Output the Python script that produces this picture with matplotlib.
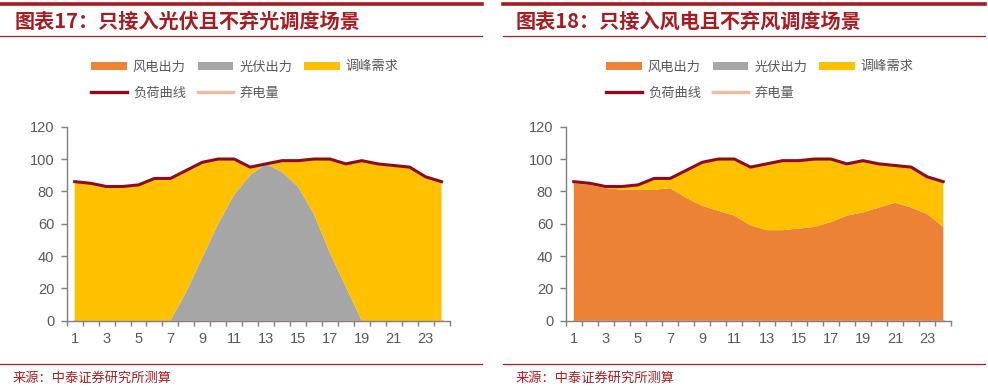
import numpy as np
import matplotlib.pyplot as plt
from matplotlib.patches import Patch
from matplotlib.lines import Line2D

plt.rcParams['font.family'] = ['Noto Sans CJK SC', 'DejaVu Sans']

# 小时
hours = list(range(1, 25))
xtick_labels = [str(h) for h in range(1, 25, 2)]

# 负荷曲线（两图相同）
load = [86, 85, 83, 83, 84, 88, 88, 93, 98, 100, 100, 95,
        97, 99, 99, 100, 100, 97, 99, 97, 96, 95, 89, 86]

# 图表17：只接入光伏
pv_wind = [0] * 24
pv_solar = [0, 0, 0, 0, 0, 0, 0, 18, 39, 60, 78, 90,
            97, 92, 83, 66, 42, 21, 0, 0, 0, 0, 0, 0]
pv_peak = [86, 85, 83, 83, 84, 88, 88, 75, 59, 40, 22, 5,
           0, 7, 16, 34, 58, 76, 99, 97, 96, 95, 89, 86]

# 图表18：只接入风电
wd_wind = [85, 84, 82, 81, 81, 81, 82, 76, 71, 68, 65, 59,
           56, 56, 57, 58, 61, 65, 67, 70, 73, 70, 66, 58]
wd_solar = [0] * 24
wd_peak = [1, 1, 1, 2, 3, 7, 6, 17, 27, 32, 35, 36,
           41, 43, 42, 42, 39, 32, 32, 27, 23, 25, 23, 28]

curtail = [0] * 24

titles = ['图表17：只接入光伏且不弃光调度场景', '图表18：只接入风电且不弃风调度场景']
series_names = ['风电出力', '光伏出力', '调峰需求', '负荷曲线', '弃电量']

C_WIND = '#EB8236'
C_SOLAR = '#A6A6A6'
C_PEAK = '#FFC000'
C_LOAD = '#8E0B1F'
C_CURT = '#F2B8A2'
C_RED = '#A51C22'
C_TXT = '#595959'

W, H = 988, 390
fig = plt.figure(figsize=(W / 100, H / 100), dpi=100)


def fx(px):
    return px / W


def fy(py):
    return 1 - py / H


panels = [
    dict(x0=0, x1=482, ax_l=66.7, ax_r=449.5, title_x=15,
         data=(pv_wind, pv_solar, pv_peak), leg_x=245),
    dict(x0=503, x1=985, ax_l=565.7, ax_r=951.3, title_x=516,
         data=(wd_wind, wd_solar, wd_peak), leg_x=760),
]

for i, p in enumerate(panels):
    # 顶部粗线、标题、细线
    fig.add_artist(Line2D([fx(p['x0']), fx(p['x1'])], [fy(4), fy(4)],
                          color=C_RED, lw=2.6))
    fig.text(fx(p['title_x']), fy(21), titles[i], color=C_RED, fontsize=14.5,
             fontweight='bold', va='center', ha='left')
    fig.add_artist(Line2D([fx(p['x0']), fx(p['x1'])], [fy(35.5), fy(35.5)],
                          color=C_RED, lw=0.9))
    # 底部线和来源
    fig.add_artist(Line2D([fx(p['x0']), fx(p['x1'])], [fy(363.5), fy(363.5)],
                          color=C_RED, lw=0.9))
    fig.text(fx(p['x0'] + 13), fy(378), '来源：中泰证券研究所测算', color=C_RED,
             fontsize=9.5, va='center', ha='left')

    ax = fig.add_axes([fx(p['ax_l']), fy(320.7), fx(p['ax_r'] - p['ax_l']),
                       (320.7 - 126.7) / H])
    wind, solar, peak = p['data']
    ax.stackplot(hours, wind, solar, peak, colors=[C_WIND, C_SOLAR, C_PEAK],
                 linewidth=0, zorder=1)
    ax.plot(hours, curtail, color=C_CURT, lw=2, zorder=0.5)
    ax.plot(hours, load, color=C_LOAD, lw=2.2, zorder=3, solid_joinstyle='round')

    ax.set_xlim(0.5, 24.5)
    ax.set_ylim(0, 120)
    ax.set_yticks(range(0, 121, 20))
    ax.set_xticks(np.arange(0.5, 25, 1))
    ax.set_xticklabels([])
    ax.set_xticks(range(1, 25, 2), minor=True)
    ax.set_xticklabels(xtick_labels, minor=True)
    ax.tick_params(axis='x', which='major', length=3.5, width=1, color='#7F7F7F')
    ax.tick_params(axis='x', which='minor', length=0, pad=8,
                   labelsize=10.5, labelcolor=C_TXT)
    ax.tick_params(axis='y', length=4, width=1, color='#7F7F7F',
                   labelsize=10.5, labelcolor=C_TXT, pad=5)
    for lab in ax.get_xticklabels(minor=True) + ax.get_yticklabels():
        lab.set_fontfamily(['Liberation Sans', 'DejaVu Sans'])
    for s in ['top', 'right']:
        ax.spines[s].set_visible(False)
    for s in ['left', 'bottom']:
        ax.spines[s].set_color('#7F7F7F')
        ax.spines[s].set_linewidth(1)
        ax.spines[s].set_zorder(4)

    # 图例，按行排列
    h_wind = Patch(facecolor=C_WIND, edgecolor='none')
    h_solar = Patch(facecolor=C_SOLAR, edgecolor='none')
    h_peak = Patch(facecolor=C_PEAK, edgecolor='none')
    h_load = Line2D([], [], color=C_LOAD, lw=2.4)
    h_curt = Line2D([], [], color=C_CURT, lw=2.4)
    handles = [h_wind, h_load, h_solar, h_curt, h_peak]
    labels = [series_names[0], series_names[3], series_names[1],
              series_names[4], series_names[2]]
    ax.legend(handles, labels, ncol=3, loc='center',
              bbox_to_anchor=(fx(p['leg_x']), fy(80)),
              bbox_transform=fig.transFigure, frameon=False,
              fontsize=9.5, labelcolor=C_TXT, handlelength=2.7,
              handleheight=0.55, handletextpad=0.45, columnspacing=0.9,
              labelspacing=1.0, borderpad=0)

fig.savefig('out.png', dpi=100, facecolor='white')
